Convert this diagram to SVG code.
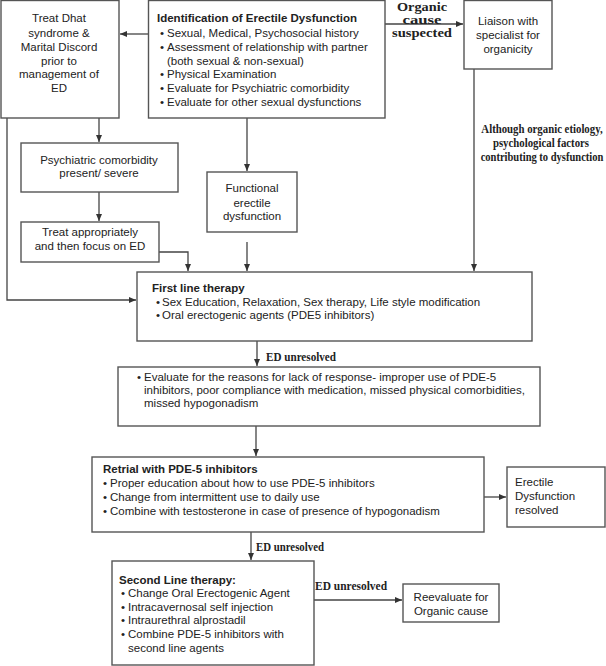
<svg xmlns="http://www.w3.org/2000/svg" width="606" height="666" viewBox="0 0 606 666">
<defs>
<marker id="ah" viewBox="0 0 7 6" refX="7" refY="3" markerWidth="7" markerHeight="6" markerUnits="userSpaceOnUse" orient="auto">
<path d="M0,0 L7,3 L0,6 z" fill="#333"/>
</marker>
<style>
.box{fill:#fff;stroke:#555;stroke-width:1.4}
.t{font-family:"Liberation Sans",Arial,sans-serif;font-size:11.5px;fill:#222}
.c{text-anchor:middle}
.b{font-weight:bold}
.lbl{font-family:"Liberation Serif","Times New Roman",serif;font-weight:bold;fill:#222}
.con{fill:none;stroke:#444;stroke-width:1.3}
.arr{marker-end:url(#ah)}
</style>
</defs>
<rect width="606" height="666" fill="#fff"/>

<g id="connectors">
<path class="con arr" d="M148 34 H120"/>
<path class="con arr" d="M385 24 H463"/>
<path class="con arr" d="M474 69 V271"/>
<path class="con arr" d="M99 118 V142"/>
<path class="con arr" d="M99 192 V221"/>
<path class="con arr" d="M159 252 H188 V271"/>
<path class="con arr" d="M247 118 V171"/>
<path class="con arr" d="M247 242 V271"/>
<path class="con arr" d="M7 118 V300 H136"/>
<path class="con arr" d="M257 341 V366"/>
<path class="con arr" d="M256 426 V456"/>
<path class="con arr" d="M484 497 H506"/>
<path class="con arr" d="M251 532 V560"/>
<path class="con arr" d="M314 600 H402"/>
<text class="lbl" font-size="12.5" x="422" y="10.5" text-anchor="middle" textLength="50" lengthAdjust="spacingAndGlyphs">Organic</text>
<text class="lbl" font-size="12.5" x="422" y="23.5" text-anchor="middle" textLength="39" lengthAdjust="spacingAndGlyphs">cause</text>
<text class="lbl" font-size="12.5" x="422" y="36.5" text-anchor="middle" textLength="60" lengthAdjust="spacingAndGlyphs">suspected</text>
<text class="lbl" font-size="13" transform="translate(542,133) scale(0.83,1)" text-anchor="middle">Although organic etiology,</text>
<text class="lbl" font-size="13" transform="translate(541,147) scale(0.83,1)" text-anchor="middle">psychological factors</text>
<text class="lbl" font-size="13" transform="translate(542,161) scale(0.81,1)" text-anchor="middle">contributing to dysfunction</text>
<text class="lbl" font-size="13" x="266" y="361" textLength="70" lengthAdjust="spacingAndGlyphs">ED unresolved</text>
<text class="lbl" font-size="13" x="256" y="551" textLength="68" lengthAdjust="spacingAndGlyphs">ED unresolved</text>
<text class="lbl" font-size="13" x="315" y="590" textLength="72" lengthAdjust="spacingAndGlyphs">ED unresolved</text>
</g>

<g id="dhat">
<rect class="box" x="1" y="0.5" width="118" height="117.5"/>
<text class="t c" x="59" y="22">Treat Dhat</text>
<text class="t c" x="59" y="37">syndrome &amp;</text>
<text class="t c" x="59" y="51">Marital Discord</text>
<text class="t c" x="59" y="65">prior to</text>
<text class="t c" x="59" y="78">management of</text>
<text class="t c" x="59" y="92">ED</text>
</g>

<g id="identification">
<rect class="box" x="148.5" y="0.5" width="236.5" height="117.5"/>
<text class="t b" x="157" y="22">Identification of Erectile Dysfunction</text>
<text class="t" x="160" y="37">•</text><text class="t" x="167" y="37">Sexual, Medical, Psychosocial history</text>
<text class="t" x="160" y="51">•</text><text class="t" x="167" y="51">Assessment of relationship with partner</text>
<text class="t" x="167" y="65">(both sexual &amp; non-sexual)</text>
<text class="t" x="160" y="78">•</text><text class="t" x="167" y="78">Physical Examination</text>
<text class="t" x="160" y="92">•</text><text class="t" x="167" y="92">Evaluate for Psychiatric comorbidity</text>
<text class="t" x="160" y="106">•</text><text class="t" x="167" y="106">Evaluate for other sexual dysfunctions</text>
</g>

<g id="liaison">
<rect class="box" x="464" y="0.5" width="88" height="68.5"/>
<text class="t c" x="508" y="25">Liaison with</text>
<text class="t c" x="508" y="39">specialist for</text>
<text class="t c" x="508" y="53">organicity</text>
</g>

<g id="psych">
<rect class="box" x="21" y="143" width="157" height="49"/>
<text class="t c" x="99" y="164">Psychiatric comorbidity</text>
<text class="t c" x="99" y="177">present/ severe</text>
</g>

<g id="treatapp">
<rect class="box" x="21" y="222" width="138" height="40"/>
<text class="t c" x="90" y="236">Treat appropriately</text>
<text class="t c" x="90" y="250">and then focus on ED</text>
</g>

<g id="functional">
<rect class="box" x="207" y="172" width="90" height="60"/>
<text class="t c" x="252" y="192">Functional</text>
<text class="t c" x="252" y="207">erectile</text>
<text class="t c" x="252" y="220">dysfunction</text>
</g>

<g id="firstline">
<rect class="box" x="137" y="272" width="395" height="69"/>
<text class="t b" x="152" y="292">First line therapy</text>
<text class="t" x="156" y="306">•</text><text class="t" x="162" y="306">Sex Education, Relaxation, Sex therapy, Life style modification</text>
<text class="t" x="156" y="319">•</text><text class="t" x="162" y="319">Oral erectogenic agents (PDE5 inhibitors)</text>
</g>

<g id="evaluate">
<rect class="box" x="118" y="367" width="422" height="59"/>
<text class="t" x="137" y="381">•</text><text class="t" x="144" y="381">Evaluate for the reasons for lack of response- improper use of PDE-5</text>
<text class="t" x="144" y="394">inhibitors, poor compliance with medication, missed physical comorbidities,</text>
<text class="t" x="144" y="407">missed hypogonadism</text>
</g>

<g id="retrial">
<rect class="box" x="92" y="457" width="392" height="75"/>
<text class="t b" x="103" y="473">Retrial with PDE-5 inhibitors</text>
<text class="t" x="103" y="487">•</text><text class="t" x="110" y="487">Proper education about how to use PDE-5 inhibitors</text>
<text class="t" x="103" y="501">•</text><text class="t" x="110" y="501">Change from intermittent use to daily use</text>
<text class="t" x="103" y="515">•</text><text class="t" x="110" y="515">Combine with testosterone in case of presence of hypogonadism</text>
</g>

<g id="resolved">
<rect class="box" x="507" y="467" width="98" height="60"/>
<text class="t" x="515" y="486">Erectile</text>
<text class="t" x="515" y="500">Dysfunction</text>
<text class="t" x="515" y="514">resolved</text>
</g>

<g id="secondline">
<rect class="box" x="112" y="561" width="202" height="104"/>
<text class="t b" x="119" y="584">Second Line therapy:</text>
<text class="t" x="121" y="597">•</text><text class="t" x="128" y="597">Change Oral Erectogenic Agent</text>
<text class="t" x="121" y="611">•</text><text class="t" x="128" y="611">Intracavernosal self injection</text>
<text class="t" x="121" y="624">•</text><text class="t" x="128" y="624">Intraurethral alprostadil</text>
<text class="t" x="121" y="638">•</text><text class="t" x="128" y="638">Combine PDE-5 inhibitors with</text>
<text class="t" x="128" y="652">second line agents</text>
</g>

<g id="reevaluate">
<rect class="box" x="403" y="584" width="96" height="38"/>
<text class="t c" x="451" y="601">Reevaluate for</text>
<text class="t c" x="451" y="615">Organic cause</text>
</g>
</svg>
